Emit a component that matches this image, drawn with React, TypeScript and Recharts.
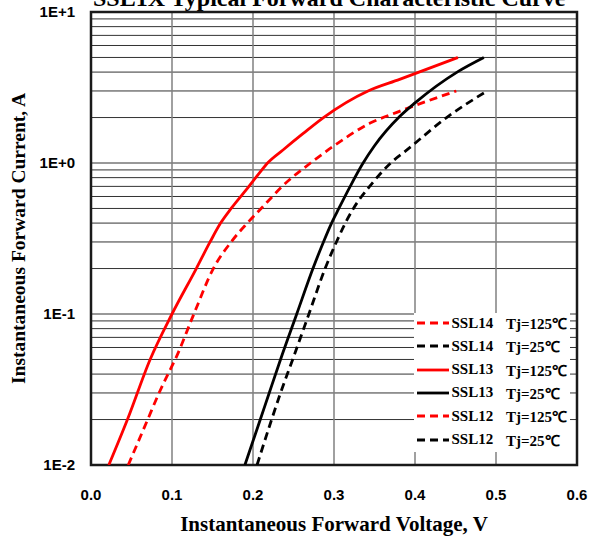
import { LineChart, Line, XAxis, YAxis, CartesianGrid, ReferenceArea } from 'recharts'

// forward characteristic, V (volts) vs I (amps)
const ssl13Hot = [
  { v: 0.022, i: 0.01 }, { v: 0.045, i: 0.02 }, { v: 0.073, i: 0.05 }, { v: 0.1, i: 0.1 },
  { v: 0.13, i: 0.2 }, { v: 0.147, i: 0.3 }, { v: 0.16, i: 0.4 }, { v: 0.173, i: 0.5 },
  { v: 0.195, i: 0.7 }, { v: 0.208, i: 0.86 }, { v: 0.218, i: 1.0 }, { v: 0.237, i: 1.22 },
  { v: 0.262, i: 1.57 }, { v: 0.287, i: 2.0 }, { v: 0.342, i: 3.0 }, { v: 0.381, i: 3.58 },
  { v: 0.453, i: 5.0 },
]
const ssl1xHot = [
  { v: 0.046, i: 0.01 }, { v: 0.07, i: 0.02 }, { v: 0.084, i: 0.03 }, { v: 0.095, i: 0.04 },
  { v: 0.104, i: 0.05 }, { v: 0.127, i: 0.1 }, { v: 0.151, i: 0.2 }, { v: 0.173, i: 0.3 },
  { v: 0.193, i: 0.4 }, { v: 0.21, i: 0.5 }, { v: 0.224, i: 0.6 }, { v: 0.236, i: 0.7 },
  { v: 0.248, i: 0.8 }, { v: 0.26, i: 0.9 }, { v: 0.271, i: 1.0 }, { v: 0.3, i: 1.3 },
  { v: 0.344, i: 1.83 }, { v: 0.38, i: 2.19 }, { v: 0.451, i: 3.0 },
]
const ssl13Cold = [
  { v: 0.19, i: 0.01 }, { v: 0.209, i: 0.02 }, { v: 0.22, i: 0.03 }, { v: 0.234, i: 0.05 },
  { v: 0.254, i: 0.1 }, { v: 0.274, i: 0.2 }, { v: 0.287, i: 0.3 }, { v: 0.297, i: 0.4 },
  { v: 0.306, i: 0.5 }, { v: 0.32, i: 0.7 }, { v: 0.335, i: 0.98 }, { v: 0.35, i: 1.3 },
  { v: 0.381, i: 2.03 }, { v: 0.4, i: 2.5 }, { v: 0.453, i: 4.03 }, { v: 0.485, i: 5.0 },
]
const ssl1xCold = [
  { v: 0.205, i: 0.01 }, { v: 0.223, i: 0.02 }, { v: 0.234, i: 0.03 }, { v: 0.249, i: 0.05 },
  { v: 0.269, i: 0.1 }, { v: 0.289, i: 0.2 }, { v: 0.303, i: 0.3 }, { v: 0.314, i: 0.4 },
  { v: 0.324, i: 0.5 }, { v: 0.344, i: 0.7 }, { v: 0.37, i: 1.0 }, { v: 0.39, i: 1.22 },
  { v: 0.439, i: 2.0 }, { v: 0.489, i: 3.0 },
]

const voltageTicks = [0, 0.1, 0.2, 0.3, 0.4, 0.5, 0.6]
const currentGrid = [
  0.01, 0.02, 0.03, 0.04, 0.05, 0.06, 0.07, 0.08, 0.09,
  0.1, 0.2, 0.3, 0.4, 0.5, 0.6, 0.7, 0.8, 0.9,
  1, 2, 3, 4, 5, 6, 7, 8, 9, 10,
]
const decadeValues = [0.01, 0.1, 1, 10]
const decadeLabels = ['1E-2', '1E-1', '1E+0', '1E+1']

const curves = [
  { key: 'ssl1xHot', data: ssl1xHot, color: '#ff0000', dash: '8 5' },
  { key: 'ssl1xCold', data: ssl1xCold, color: '#000000', dash: '8 5' },
  { key: 'ssl13Hot', data: ssl13Hot, color: '#ff0000', dash: undefined },
  { key: 'ssl13Cold', data: ssl13Cold, color: '#000000', dash: undefined },
]

const legendItems = [
  { name: 'SSL14', temp: 'Tj=125℃', curve: 'ssl1xHot' },
  { name: 'SSL14', temp: 'Tj=25℃', curve: 'ssl1xCold' },
  { name: 'SSL13', temp: 'Tj=125℃', curve: 'ssl13Hot' },
  { name: 'SSL13', temp: 'Tj=25℃', curve: 'ssl13Cold' },
  { name: 'SSL12', temp: 'Tj=125℃', curve: 'ssl1xHot' },
  { name: 'SSL12', temp: 'Tj=25℃', curve: 'ssl1xCold' },
]

const serif = '"Liberation Serif", "Times New Roman", serif'
const sans = '"Liberation Sans", Arial, sans-serif'
const tickStyle = { fontFamily: sans, fontWeight: 700, fontSize: 15, fill: '#000' }

function decadeLabel(v: number) {
  const idx = decadeValues.findIndex(d => Math.abs(d - v) < 1e-9)
  return idx >= 0 ? decadeLabels[idx] : ''
}

export default function App() {
  return (
    <div style={{ position: 'absolute', left: 0, top: 0, width: 592, height: 539, background: '#fff' }}>
      <svg width={592} height={20} style={{ position: 'absolute', left: 0, top: 0 }}>
        <text x={93} y={5.5} fontFamily={serif} fontWeight={700} fontSize={24} fill="#000">
          SSL1X Typical Forward Characteristic Curve
        </text>
      </svg>
      <LineChart width={592} height={539} margin={{ top: 12, right: 15, left: 0, bottom: 0 }}>
        <CartesianGrid stroke="#333" strokeWidth={1} horizontal vertical={false} />
        <CartesianGrid stroke="#808080" strokeWidth={1.5} horizontal={false} vertical />
        <XAxis
          type="number"
          dataKey="v"
          domain={[0, 0.6]}
          ticks={voltageTicks}
          tickFormatter={(v: number) => v.toFixed(1)}
          tick={tickStyle}
          tickLine={false}
          axisLine={false}
          tickSize={0}
          tickMargin={24}
          height={74}
          allowDataOverflow
          label={{
            value: 'Instantaneous Forward Voltage, V',
            position: 'insideBottom',
            offset: 8,
            style: { fontFamily: serif, fontWeight: 700, fontSize: 21, fill: '#000' },
          }}
        />
        <YAxis
          type="number"
          dataKey="i"
          scale="log"
          domain={[0.01, 10]}
          ticks={currentGrid}
          interval={0}
          tickFormatter={decadeLabel}
          tick={tickStyle}
          tickLine={false}
          axisLine={false}
          tickSize={0}
          tickMargin={16}
          width={91}
          allowDataOverflow
          label={{
            value: 'Instantaneous Forward Current, A',
            angle: -90,
            position: 'insideLeft',
            offset: 18,
            style: { fontFamily: serif, fontWeight: 700, fontSize: 19.5, fill: '#000', textAnchor: 'middle' },
          }}
        />
        <ReferenceArea x1={0} x2={0.6} y1={0.01} y2={10} fill="none" stroke="#1a1a1a" strokeWidth={2.5} />
        {curves.map(c => (
          <Line
            key={c.key}
            data={c.data}
            dataKey="i"
            type="monotone"
            stroke={c.color}
            strokeWidth={2.8}
            strokeDasharray={c.dash}
            dot={false}
            activeDot={false}
            isAnimationActive={false}
          />
        ))}
      </LineChart>
      <div
        style={{
          position: 'absolute', left: 414, top: 313, width: 156, height: 139, background: '#fff',
          fontFamily: serif, fontWeight: 700, fontSize: 15, color: '#000',
        }}
      >
        {legendItems.map((item, idx) => {
          const c = curves.find(cv => cv.key === item.curve)!
          return (
            <div
              key={idx}
              style={{ position: 'absolute', left: 0, top: idx * 23.3, height: 20, display: 'flex', alignItems: 'center', whiteSpace: 'nowrap' }}
            >
              <svg width={37} height={20} style={{ marginLeft: 2.5 }}>
                <line x1={0} y1={10} x2={32} y2={10} stroke={c.color} strokeWidth={2.8} strokeDasharray={c.dash} />
              </svg>
              <span style={{ marginLeft: -2 }}>{item.name}</span>
              <span style={{ position: 'absolute', left: 92 }}>{item.temp}</span>
            </div>
          )
        })}
      </div>
    </div>
  )
}
